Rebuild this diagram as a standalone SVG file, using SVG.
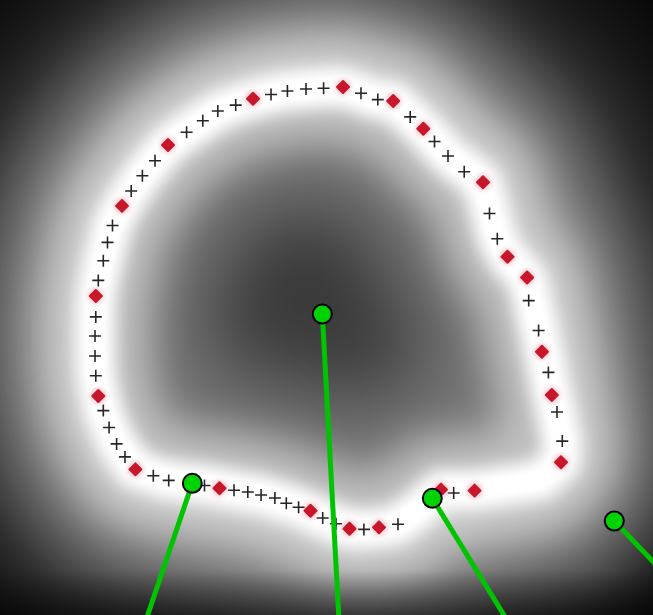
<svg xmlns="http://www.w3.org/2000/svg" xmlns:xlink="http://www.w3.org/1999/xlink" width="653" height="615" viewBox="0 0 653 615">
<style>
.glow{fill:none;stroke:#fff;stroke-linejoin:round}
.pl{fill:none;stroke:#262626;stroke-width:1.6}
.rd{fill:#c8182c;stroke:#c8182c;stroke-width:2;stroke-linejoin:round}
.halo{fill:#f6b0b8;opacity:0.55}
.gl{stroke:#00c400;stroke-width:5;stroke-linecap:butt;fill:none}
.gc{fill:#00d400;stroke:#000;stroke-width:2}
</style>
<defs>
<radialGradient id="bg" gradientUnits="userSpaceOnUse" cx="310" cy="320" r="480">
<stop offset="0" stop-color="#3a3a3a"/>
<stop offset="0.55" stop-color="#313131"/>
<stop offset="0.8" stop-color="#1e1e1e"/>
<stop offset="1" stop-color="#050505"/>
</radialGradient>
<linearGradient id="bot" gradientUnits="userSpaceOnUse" x1="0" y1="570" x2="0" y2="615">
<stop offset="0" stop-color="#000" stop-opacity="0"/>
<stop offset="1" stop-color="#000" stop-opacity="0.5"/>
</linearGradient>
<filter id="b50" filterUnits="userSpaceOnUse" x="-150" y="-150" width="953" height="915"><feGaussianBlur stdDeviation="40"/></filter>
<filter id="b40" filterUnits="userSpaceOnUse" x="-150" y="-150" width="953" height="915"><feGaussianBlur stdDeviation="40"/></filter>
<filter id="b20" filterUnits="userSpaceOnUse" x="-150" y="-150" width="953" height="915"><feGaussianBlur stdDeviation="20"/></filter>
<filter id="b8" filterUnits="userSpaceOnUse" x="-150" y="-150" width="953" height="915"><feGaussianBlur stdDeviation="8"/></filter>
<filter id="b2" x="-1" y="-1" width="3" height="3"><feGaussianBlur stdDeviation="2"/></filter>
<filter id="b06" x="-1" y="-1" width="3" height="3"><feGaussianBlur stdDeviation="0.6"/></filter>
<path id="contour" d="M186,132 L218,111 252,99 287,91 323,88 343,87 378,100 393,101 423,129 448,156 482,182 497,238 507,257 527,278 539,330 552,395 562,441 561,462 540,480 474,490 441,490 420,508 398,524 379,528 350,529 323,518 299,507 262,495 234,490 204,484 169,480 135,469 117,444 103,411 96,376 95,336 96,296 103,261 112,226 122,206 142,176 168,145 Z"/>
<mask id="outside" maskUnits="userSpaceOnUse" x="0" y="0" width="653" height="615">
<rect width="653" height="615" fill="#fff"/>
<use xlink:href="#contour" fill="#000"/>
</mask>
<path id="p" class="pl" d="M-6,0H6M0,-6V6"/>
<g id="r"><circle class="halo" r="8.5" filter="url(#b2)"/><path class="rd" d="M0,-6L6,0L0,6L-6,0Z" filter="url(#b06)"/></g>
</defs>
<rect width="653" height="615" fill="url(#bg)"/>
<g id="glow">
<g mask="url(#outside)"><use xlink:href="#contour" class="glow" stroke-width="170" opacity="0.2" filter="url(#b50)"/></g>
<use xlink:href="#contour" class="glow" stroke-width="230" opacity="0.33" filter="url(#b40)"/>
<use xlink:href="#contour" class="glow" stroke-width="110" opacity="0.55" filter="url(#b20)"/>
<use xlink:href="#contour" class="glow" stroke-width="40" filter="url(#b8)"/>
<use xlink:href="#contour" class="glow" stroke-width="18" opacity="0.9" filter="url(#b2)"/>
</g>
<rect x="0" y="570" width="653" height="45" fill="url(#bot)"/>
<g id="markers">
<use xlink:href="#p" x="186.6" y="132.2"/><use xlink:href="#p" x="202.8" y="120.8"/><use xlink:href="#p" x="217.8" y="111"/><use xlink:href="#p" x="235.7" y="105.1"/>
<use xlink:href="#r" x="253" y="98.8"/>
<use xlink:href="#p" x="271" y="94.5"/><use xlink:href="#p" x="287.4" y="91"/><use xlink:href="#p" x="306" y="89"/><use xlink:href="#p" x="323.6" y="88.2"/>
<use xlink:href="#r" x="343" y="87"/>
<use xlink:href="#p" x="361" y="93.3"/><use xlink:href="#p" x="377.8" y="99.6"/>
<use xlink:href="#r" x="393.2" y="101"/>
<use xlink:href="#p" x="410.2" y="116.9"/>
<use xlink:href="#r" x="423.3" y="128.8"/>
<use xlink:href="#p" x="434.5" y="141.5"/><use xlink:href="#p" x="448" y="156"/><use xlink:href="#p" x="464.2" y="171.8"/>
<use xlink:href="#r" x="483" y="182.2"/>
<use xlink:href="#p" x="489.5" y="213.5"/><use xlink:href="#p" x="497.3" y="238.8"/>
<use xlink:href="#r" x="507.5" y="256.8"/><use xlink:href="#r" x="527.1" y="277.5"/>
<use xlink:href="#p" x="528.7" y="300.6"/><use xlink:href="#p" x="538.6" y="330.5"/>
<use xlink:href="#r" x="541.9" y="351.8"/>
<use xlink:href="#p" x="548.4" y="372.4"/>
<use xlink:href="#r" x="551.8" y="395"/>
<use xlink:href="#p" x="557" y="412"/><use xlink:href="#p" x="562.3" y="441.1"/>
<use xlink:href="#r" x="561" y="462.2"/>
<use xlink:href="#r" x="474.6" y="490.6"/>
<use xlink:href="#p" x="453.7" y="493"/>
<use xlink:href="#r" x="441" y="489.6"/>
<use xlink:href="#p" x="398" y="524.3"/>
<use xlink:href="#r" x="379" y="527.4"/>
<use xlink:href="#p" x="363.9" y="529.4"/>
<use xlink:href="#r" x="349.5" y="528.8"/>
<use xlink:href="#p" x="336" y="523.8"/><use xlink:href="#p" x="322.7" y="518"/>
<use xlink:href="#r" x="310.5" y="510.8"/>
<use xlink:href="#p" x="298.6" y="507.2"/><use xlink:href="#p" x="286.3" y="503.3"/><use xlink:href="#p" x="274.9" y="498"/><use xlink:href="#p" x="261.1" y="495"/><use xlink:href="#p" x="247.8" y="492"/><use xlink:href="#p" x="234" y="490.2"/>
<use xlink:href="#r" x="219.5" y="488.2"/>
<use xlink:href="#p" x="204.5" y="485.5"/><use xlink:href="#p" x="168.7" y="480.4"/><use xlink:href="#p" x="153.3" y="475.7"/>
<use xlink:href="#r" x="135.4" y="469.4"/>
<use xlink:href="#p" x="125" y="456.9"/><use xlink:href="#p" x="116.6" y="443.9"/><use xlink:href="#p" x="109.1" y="427.5"/><use xlink:href="#p" x="103.3" y="410.6"/>
<use xlink:href="#r" x="98.3" y="396"/>
<use xlink:href="#p" x="95.8" y="375.7"/><use xlink:href="#p" x="95" y="356"/><use xlink:href="#p" x="95" y="336"/><use xlink:href="#p" x="95.8" y="316.9"/>
<use xlink:href="#r" x="95.8" y="296"/>
<use xlink:href="#p" x="98.3" y="280.4"/><use xlink:href="#p" x="103.3" y="260.8"/><use xlink:href="#p" x="107.5" y="242.4"/><use xlink:href="#p" x="112.5" y="225.5"/>
<use xlink:href="#r" x="122" y="205.9"/>
<use xlink:href="#p" x="131.2" y="191"/><use xlink:href="#p" x="142.4" y="175.7"/><use xlink:href="#p" x="155" y="160.8"/>
<use xlink:href="#r" x="168" y="145"/>
</g>
<g id="connectors">
<line class="gl" x1="322.3" y1="314" x2="339" y2="620"/>
<line class="gl" x1="192.3" y1="483.3" x2="146" y2="620"/>
<line class="gl" x1="432.3" y1="498.3" x2="507" y2="620"/>
<line class="gl" x1="614.3" y1="521" x2="660" y2="569"/>
</g>
<g id="node-center"><circle class="gc" cx="322.3" cy="314" r="9.5"/></g>
<g id="node-bl"><circle class="gc" cx="192.3" cy="483.3" r="9.5"/></g>
<g id="node-bm"><circle class="gc" cx="432.3" cy="498.3" r="9.5"/></g>
<g id="node-br"><circle class="gc" cx="614.3" cy="521" r="9.5"/></g>
</svg>
